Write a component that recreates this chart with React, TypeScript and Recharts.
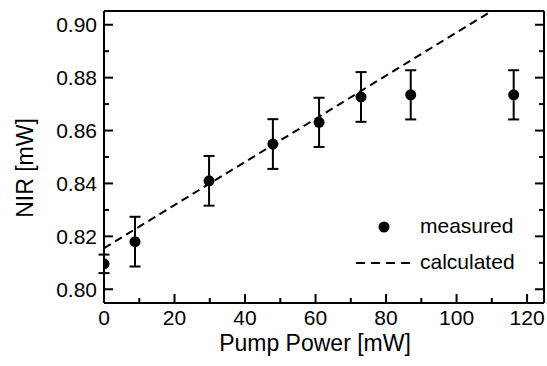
import { ComposedChart, Scatter, Line, XAxis, YAxis, ErrorBar } from 'recharts';

// values
const pumpPower = [0, 8.8, 29.8, 47.9, 61.0, 72.9, 87.0, 116.2];
const nirMeasured = [0.8096, 0.818, 0.841, 0.8549, 0.8631, 0.8727, 0.8735, 0.8735];
const nirError = [0.0035, 0.0094, 0.0094, 0.0094, 0.0093, 0.0094, 0.0093, 0.0093];

const calcPower = [0, 30, 60, 87, 110];
const nirCalculated = [0.8155, 0.84, 0.8644, 0.8865, 0.9052];

const xTicks = [0, 10, 20, 30, 40, 50, 60, 70, 80, 90, 100, 110, 120];
const yTicks = [0.8, 0.81, 0.82, 0.83, 0.84, 0.85, 0.86, 0.87, 0.88, 0.89, 0.9];

const measured = pumpPower.map((x, i) => ({ x, y: nirMeasured[i], err: nirError[i] }));
const calculated = calcPower.map((x, i) => ({ x, y: nirCalculated[i] }));

const FONT = '"Liberation Sans", Arial, sans-serif';
const X_DOMAIN = [0, 124.8];
const Y_DOMAIN = [0.7948, 0.9052];

const isMajorX = (v: number) => Math.round(v) % 20 === 0;
const isMajorY = (v: number) => Math.round(v * 100) % 2 === 0;

function BottomTick({ x, y, payload }: any) {
  const major = isMajorX(payload.value);
  return (
    <g>
      <line x1={x} x2={x} y1={y} y2={y - (major ? 9 : 5)} stroke="#000" strokeWidth={2} />
      {major && (
        <text x={x} y={y + 22} textAnchor="middle" fontSize={21} fontFamily={FONT} fill="#000">
          {payload.value}
        </text>
      )}
    </g>
  );
}

function TopTick({ x, y, payload }: any) {
  const major = isMajorX(payload.value);
  return <line x1={x} x2={x} y1={y} y2={y + (major ? 9 : 5)} stroke="#000" strokeWidth={2} />;
}

function LeftTick({ x, y, payload }: any) {
  const major = isMajorY(payload.value);
  return (
    <g>
      <line x1={x} x2={x + (major ? 9 : 5)} y1={y} y2={y} stroke="#000" strokeWidth={2} />
      {major && (
        <text x={x - 7} y={y + 7.5} textAnchor="end" fontSize={21} fontFamily={FONT} fill="#000">
          {payload.value.toFixed(2)}
        </text>
      )}
    </g>
  );
}

function RightTick({ x, y, payload }: any) {
  const major = isMajorY(payload.value);
  return <line x1={x} x2={x - (major ? 9 : 5)} y1={y} y2={y} stroke="#000" strokeWidth={2} />;
}

const Dot = (p: any) => <circle cx={p.cx} cy={p.cy} r={5.5} fill="#000" />;

export default function App() {
  const axisLine = { stroke: '#000', strokeWidth: 2 };
  return (
    <div style={{ position: 'absolute', left: 0, top: 0, width: 547, height: 366, background: '#fff' }}>
      <ComposedChart width={547} height={366} margin={{ top: 10, right: 2, bottom: 62, left: 0 }}>
        <XAxis
          dataKey="x"
          type="number"
          domain={X_DOMAIN}
          allowDataOverflow
          ticks={xTicks}
          interval={0}
          height={1}
          tickSize={0}
          tickMargin={0}
          tickLine={false}
          axisLine={axisLine}
          tick={BottomTick}
        />
        <XAxis
          xAxisId="top"
          orientation="top"
          type="number"
          domain={X_DOMAIN}
          allowDataOverflow
          ticks={xTicks}
          interval={0}
          height={1}
          tickSize={0}
          tickMargin={0}
          tickLine={false}
          axisLine={axisLine}
          tick={TopTick}
        />
        <YAxis
          dataKey="y"
          type="number"
          domain={Y_DOMAIN}
          allowDataOverflow
          ticks={yTicks}
          interval={0}
          width={104}
          tickSize={0}
          tickMargin={0}
          tickLine={false}
          axisLine={axisLine}
          tick={LeftTick}
        />
        <YAxis
          yAxisId="right"
          orientation="right"
          type="number"
          domain={Y_DOMAIN}
          allowDataOverflow
          ticks={yTicks}
          interval={0}
          width={1}
          tickSize={0}
          tickMargin={0}
          tickLine={false}
          axisLine={axisLine}
          tick={RightTick}
        />
        <Line
          data={calculated}
          dataKey="y"
          type="linear"
          stroke="#000"
          strokeWidth={2}
          strokeDasharray="8 5"
          dot={false}
          activeDot={false}
          isAnimationActive={false}
        />
        <Scatter data={measured} dataKey="y" shape={Dot} isAnimationActive={false}>
          <ErrorBar dataKey="err" direction="y" width={5.5} stroke="#000" strokeWidth={2} />
        </Scatter>
      </ComposedChart>
      <svg
        width={547}
        height={366}
        style={{ position: 'absolute', left: 0, top: 0, pointerEvents: 'none' }}
        fontFamily={FONT}
      >
        <text x={315} y={351} textAnchor="middle" fontSize={23}>Pump Power [mW]</text>
        <text x={33} y={168} textAnchor="middle" fontSize={23} transform="rotate(-90, 33, 168)">
          NIR [mW]
        </text>
        <circle cx={384} cy={227} r={5.5} fill="#000" />
        <text x={420} y={233} fontSize={21}>measured</text>
        <line x1={356} x2={413} y1={263} y2={263} stroke="#000" strokeWidth={2} strokeDasharray="9 6" />
        <text x={420} y={269} fontSize={21}>calculated</text>
      </svg>
    </div>
  );
}
